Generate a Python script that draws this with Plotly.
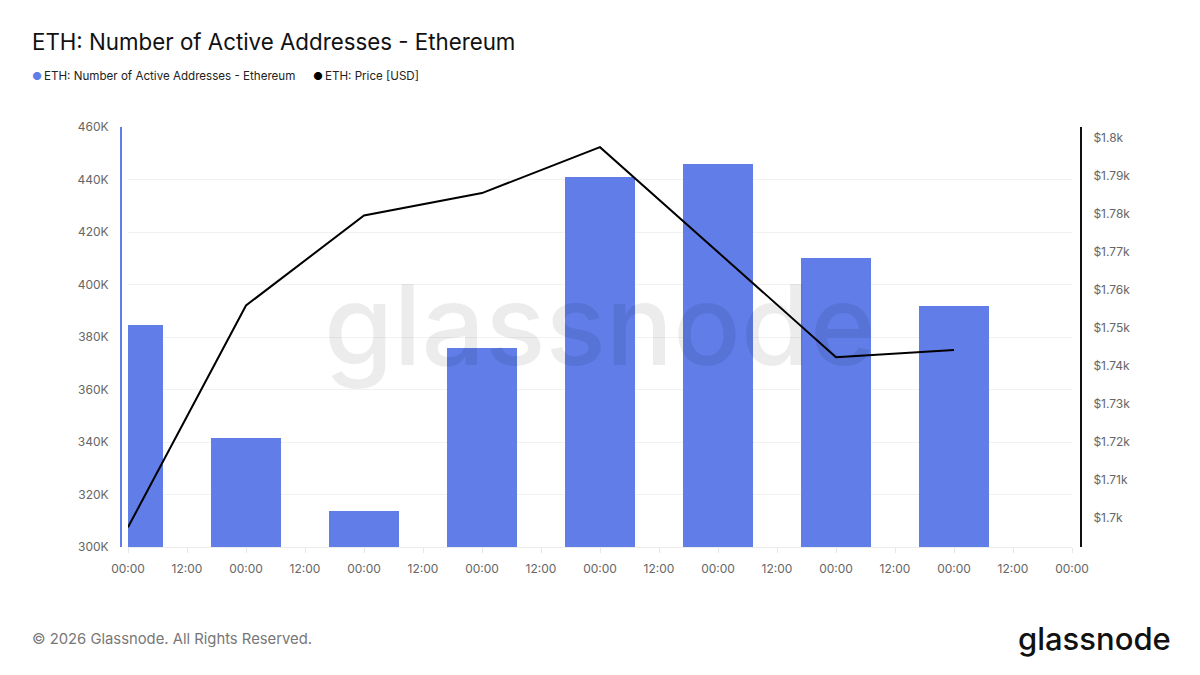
import plotly.graph_objects as go
import pandas as pd

# ---- data ----
dates = pd.date_range("2026-01-01", periods=8, freq="D")
active_addresses = [384600, 341600, 313700, 375900, 440800, 445900, 410200, 391700]
price_usd = [1697.4, 1755.8, 1779.5, 1785.4, 1797.5, 1769.8, 1742.2, 1744.1]
left_tick_vals = [300000, 320000, 340000, 360000, 380000, 400000, 420000, 440000, 460000]
left_tick_text = ["300K", "320K", "340K", "360K", "380K", "400K", "420K", "440K", "460K"]
right_tick_vals = [1700, 1710, 1720, 1730, 1740, 1750, 1760, 1770, 1780, 1790, 1800]
right_tick_text = ["$1.7k", "$1.71k", "$1.72k", "$1.73k", "$1.74k", "$1.75k",
                   "$1.76k", "$1.77k", "$1.78k", "$1.79k", "$1.8k"]
title_text = "ETH: Number of Active Addresses - Ethereum"
legend_labels = ["ETH: Number of Active Addresses - Ethereum", "ETH: Price [USD]"]

BLUE = "#607de8"
FONT = "Inter"

# pixel layout helpers
PL, PR, PT, PB = 121, 1081, 127, 547
PW, PH = PR - PL, PB - PT
def px(x):
    return (x - PL) / PW
def py(y):
    return (PB - y) / PH

fig = go.Figure()
fig.add_trace(go.Bar(
    x=dates, y=active_addresses, yaxis="y",
    marker=dict(color=BLUE, line=dict(width=0)),
    width=0.6 * 86400000, showlegend=False,
))
fig.add_trace(go.Scatter(
    x=dates, y=price_usd, yaxis="y2", mode="lines",
    line=dict(color="#000000", width=2), showlegend=False,
))

x0 = dates[0]
x1 = dates[0] + pd.Timedelta(days=8)

fig.update_layout(
    width=1200, height=675,
    margin=dict(l=PL, r=1200 - PR, t=PT, b=675 - PB),
    paper_bgcolor="white", plot_bgcolor="white",
    font=dict(family=FONT, color="#666666", size=12),
    bargap=0,
    xaxis=dict(
        domain=[px(128), px(1072)],
        range=[x0, x1], type="date",
        tick0=x0, dtick=43200000, tickformat="%H:%M",
        showgrid=False, zeroline=False,
        showline=True, linecolor="#ececec", linewidth=1,
        ticks="outside", ticklen=5, tickcolor="#e6e6e6",
        ticklabelstandoff=6,
        tickfont=dict(size=12, color="#666666"),
    ),
    yaxis=dict(
        range=[300000, 460000], anchor="free", position=0,
        tickvals=left_tick_vals, ticktext=left_tick_text,
        showgrid=True, gridcolor="#f2f2f2", gridwidth=1,
        zeroline=False, showline=True, linecolor=BLUE, linewidth=2,
        ticks="", ticklabelstandoff=9,
        tickfont=dict(size=12, color="#666666"),
    ),
    yaxis2=dict(
        range=[1692.2, 1802.8], overlaying="y", side="right",
        anchor="free", position=1,
        tickvals=right_tick_vals, ticktext=right_tick_text,
        showgrid=False, zeroline=False,
        showline=True, linecolor="#111111", linewidth=2,
        ticks="", ticklabelstandoff=9,
        tickfont=dict(size=12, color="#666666"),
    ),
)

ann = []
# title
ann.append(dict(x=px(30), y=py(41), xref="paper", yref="paper", xanchor="left", yanchor="middle",
                text=title_text, showarrow=False, font=dict(size=22.3, color="#111111", family=FONT)))
# legend
ann.append(dict(x=px(30), y=py(76), xref="paper", yref="paper", xanchor="left", yanchor="middle",
                text="●", showarrow=False, font=dict(size=11, color=BLUE, family=FONT)))
ann.append(dict(x=px(42), y=py(76), xref="paper", yref="paper", xanchor="left", yanchor="middle",
                text=legend_labels[0], showarrow=False, font=dict(size=11.6, color="#222222", family=FONT)))
ann.append(dict(x=px(311), y=py(76), xref="paper", yref="paper", xanchor="left", yanchor="middle",
                text="●", showarrow=False, font=dict(size=11, color="#000000", family=FONT)))
ann.append(dict(x=px(323), y=py(76), xref="paper", yref="paper", xanchor="left", yanchor="middle",
                text=legend_labels[1], showarrow=False, font=dict(size=11.6, color="#222222", family=FONT)))
# watermark
ann.append(dict(x=px(600), y=py(324), xref="paper", yref="paper", xanchor="center", yanchor="middle",
                text="glassnode", showarrow=False,
                font=dict(size=112, color="rgba(0,0,0,0.075)", family=FONT, weight=500)))
# footer
ann.append(dict(x=px(30), y=py(639), xref="paper", yref="paper", xanchor="left", yanchor="middle",
                text="© 2026 Glassnode. All Rights Reserved.", showarrow=False,
                font=dict(size=14.8, color="#777777", family=FONT)))
ann.append(dict(x=px(1173), y=py(638), xref="paper", yref="paper", xanchor="right", yanchor="middle",
                text="glassnode", showarrow=False,
                font=dict(size=31, color="#111111", family=FONT, weight=500)))
fig.update_layout(annotations=ann)

fig.write_html("out.html")
